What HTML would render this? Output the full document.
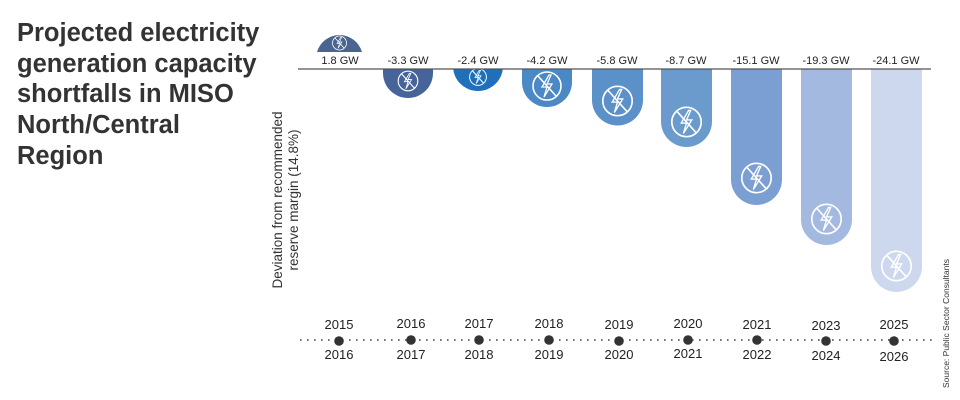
<!DOCTYPE html>
<html><head><meta charset="utf-8"><style>
body{margin:0;background:#fff;}
svg{display:block;font-family:"Liberation Sans",Arial,sans-serif;}
</style></head><body>
<svg width="960" height="400" viewBox="0 0 960 400" xmlns="http://www.w3.org/2000/svg">
<defs>
<clipPath id="below"><rect x="0" y="69" width="960" height="331"/></clipPath>
<g id="ic" fill="none" stroke="#fff" stroke-width="1.6">
<circle cx="0" cy="0" r="14"/>
<line x1="-9" y1="-10" x2="9" y2="10"/>
<path d="M2,-11 L-5,1 L0,1 L-3,11 L5,-2 L0,-2 L4,-11 Z" stroke-width="1.3"/>
</g>
</defs>
<g fill="#333" font-weight="bold" font-size="25.5">
<text x="17" y="41">Projected electricity</text>
<text x="17" y="72">generation capacity</text>
<text x="17" y="102">shortfalls in MISO</text>
<text x="17" y="133">North/Central</text>
<text x="17" y="164">Region</text>
</g>
<g fill="#333" font-size="13.5" text-anchor="middle">
<text transform="translate(282,200) rotate(-90)">Deviation from recommended</text>
<text transform="translate(298,200) rotate(-90)">reserve margin (14.8%)</text>
</g>
<text transform="translate(949,388) rotate(-90)" font-size="8.5" fill="#333">Source: Public Sector Consultants</text>

<path d="M317,52 A23.4,23.4 0 0 1 362,52 Z" fill="#4a6590"/>
<use href="#ic" transform="translate(339.5,43) scale(0.5)"/>

<g clip-path="url(#below)">
<path d="M383,60 L433,60 L433,73 A25,25 0 0 1 383,73 Z" fill="#46649a"/>
<path d="M453,60 L503,60 L503,66 A25,25 0 0 1 453,66 Z" fill="#1f6fba"/>
<path d="M522,60 L572,60 L572,82 A25,25 0 0 1 522,82 Z" fill="#4a88c6"/>
<path d="M592,60 L643,60 L643,100 A25.5,25.5 0 0 1 592,100 Z" fill="#5b90c9"/>
<path d="M661,60 L712,60 L712,121.5 A25.5,25.5 0 0 1 661,121.5 Z" fill="#6a9bcc"/>
<path d="M731,60 L782,60 L782,179.5 A25.5,25.5 0 0 1 731,179.5 Z" fill="#7b9fd3"/>
<path d="M801,60 L852,60 L852,219.5 A25.5,25.5 0 0 1 801,219.5 Z" fill="#a3b9e0"/>
<path d="M871,60 L922,60 L922,266.5 A25.5,25.5 0 0 1 871,266.5 Z" fill="#cdd8ee"/>
</g>
<use href="#ic" transform="translate(408,81) scale(0.7)"/>
<use href="#ic" transform="translate(478,77) scale(0.6)"/>
<use href="#ic" transform="translate(547,86) scale(1)"/>
<use href="#ic" transform="translate(617.5,101) scale(1.05)"/>
<use href="#ic" transform="translate(686.5,122) scale(1.05)"/>
<use href="#ic" transform="translate(756.5,178) scale(1.05)"/>
<use href="#ic" transform="translate(826.5,219) scale(1.05)"/>
<use href="#ic" transform="translate(896.5,266) scale(1.05)"/>

<line x1="298" y1="69" x2="931" y2="69" stroke="#555" stroke-width="1.3"/>
<g font-size="11" fill="#222" text-anchor="middle">
<text x="340" y="64">1.8 GW</text>
<text x="408" y="64">-3.3 GW</text>
<text x="478" y="64">-2.4 GW</text>
<text x="547" y="64">-4.2 GW</text>
<text x="617" y="64">-5.8 GW</text>
<text x="686" y="64">-8.7 GW</text>
<text x="756" y="64">-15.1 GW</text>
<text x="826" y="64">-19.3 GW</text>
<text x="896" y="64">-24.1 GW</text>
</g>

<line x1="300" y1="340" x2="935" y2="340" stroke="#444" stroke-width="1.6" stroke-dasharray="1.6,5.4"/>
<g fill="#333">
<circle cx="339" cy="341" r="4.8"/><circle cx="411" cy="340" r="4.8"/><circle cx="479" cy="340" r="4.8"/>
<circle cx="549" cy="340" r="4.8"/><circle cx="619" cy="341" r="4.8"/><circle cx="688" cy="340" r="4.8"/>
<circle cx="757" cy="340" r="4.8"/><circle cx="826" cy="341" r="4.8"/><circle cx="894" cy="341" r="4.8"/>
</g>
<g font-size="13" fill="#222" text-anchor="middle">
<text x="339" y="329">2015</text><text x="411" y="328">2016</text><text x="479" y="328">2017</text>
<text x="549" y="328">2018</text><text x="619" y="329">2019</text><text x="688" y="328">2020</text>
<text x="757" y="329">2021</text><text x="826" y="330">2023</text><text x="894" y="329">2025</text>
<text x="339" y="359">2016</text><text x="411" y="359">2017</text><text x="479" y="359">2018</text>
<text x="549" y="359">2019</text><text x="619" y="359">2020</text><text x="688" y="358">2021</text>
<text x="757" y="359">2022</text><text x="826" y="360">2024</text><text x="894" y="361">2026</text>
</g>
</svg>
</body></html>
